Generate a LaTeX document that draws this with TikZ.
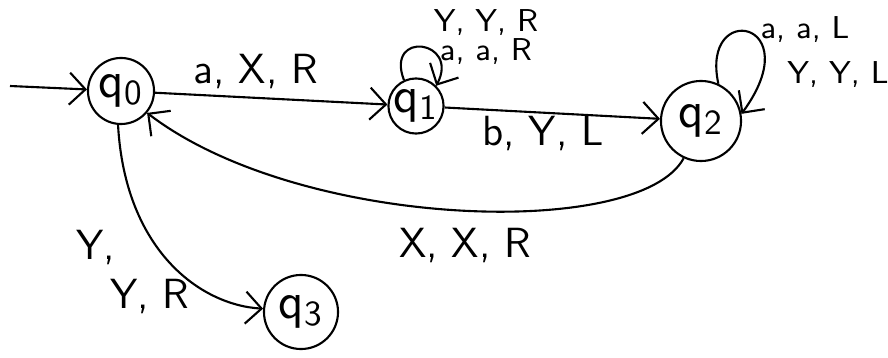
\documentclass[tikz,border=0pt]{standalone}
\usepackage{tikz}
\usepackage{amsmath}
\usetikzlibrary{arrows.meta, positioning}

\begin{document}
\begin{tikzpicture}[x=0.01cm, y=-0.01cm, font=\sffamily,
    tmstate/.style={draw, semithick, circle, inner sep=0pt, font=\Large},
    trans/.style={semithick, -{Straight Barb[length=1.6mm, width=3.2mm]}},
    lbl/.style={inner sep=1pt, font=\sffamily\large}]
    \useasboundingbox (0,0) rectangle (888,358);

    % States
    \node[tmstate, minimum size=0.66cm] (q0) at (121,91) {$\mathsf{q_0}$};
    \node[tmstate, minimum size=0.54cm] (q1) at (416,106) {$\mathsf{q_1}$};
    \node[tmstate, minimum size=0.80cm] (q2) at (701,121) {$\mathsf{q_2}$};
    \node[tmstate, minimum size=0.74cm] (q3) at (301,312) {$\mathsf{q_3}$};

    % Start arrow
    \coordinate (start) at (10,86);
    \draw[trans] (start) -- (q0);

    % q0 -> q1
    \draw[trans] (q0) -- (q1);
    \node[lbl] (l01) at (256,72) {a, X, R};

    % q1 loop
    \draw[trans] (q1.115) .. controls (385,30) and (460,40) .. (q1.45);
    \node[lbl, font=\sffamily\small, align=center] (l11) at (486,37) {Y, Y, R\\[-3pt] a, a, R};

    % q1 -> q2
    \draw[trans] (q1) -- (q2);
    \node[lbl] (l12) at (543,133) {b, Y, L};

    % q2 loop
    \draw[trans] (q2.65) .. controls (700,0) and (810,20) .. (q2.10);
    \node[lbl, font=\sffamily\small] (l22a) at (805,30) {a, a, L};
    \node[lbl, font=\sffamily\small] (l22b) at (838,75) {Y, Y, L};

    % q2 -> q0
    \draw[trans] (q2.245) .. controls (640,240) and (300,230) .. (q0.-40);
    \node[lbl] (l20) at (465,245) {X, X, R};

    % q0 -> q3
    \draw[trans] (q0.265) .. controls (125,250) and (200,305) .. (q3.175);
    \node[lbl, align=left] (l03) at (133,272) {Y,\\ \hspace{0.8em}Y, R};
\end{tikzpicture}
\end{document}
